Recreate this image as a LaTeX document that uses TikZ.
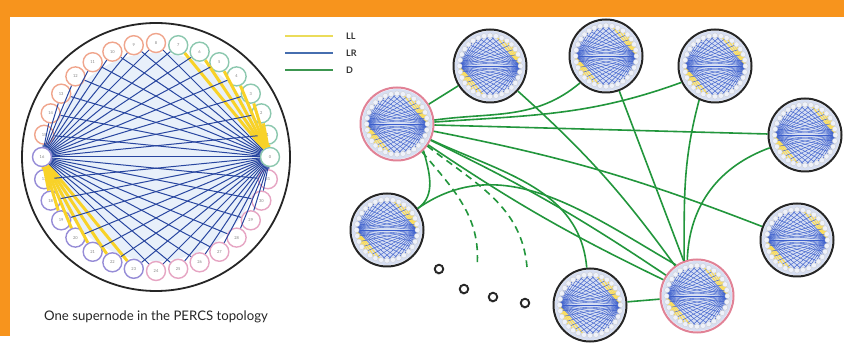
\documentclass[tikz,border=0pt]{standalone}
\usepackage{fontspec}
\setmainfont{Lato}
\usetikzlibrary{shadows}
\definecolor{orangebg}{RGB}{247,148,29}
\definecolor{lrblue}{RGB}{40,70,160}
\definecolor{minblue}{RGB}{60,95,205}
\definecolor{minfill}{RGB}{214,222,242}
\definecolor{llyellow}{RGB}{248,210,40}
\definecolor{dgreen}{RGB}{34,150,60}
\definecolor{hubc0}{RGB}{140,200,175}
\definecolor{hubc1}{RGB}{240,165,140}
\definecolor{hubc2}{RGB}{150,140,215}
\definecolor{hubc3}{RGB}{230,165,195}
\definecolor{pinkring}{RGB}{225,130,150}
\definecolor{innerfill}{RGB}{232,240,250}
\definecolor{keyll}{RGB}{235,220,90}
\definecolor{keylr}{RGB}{70,110,175}
\definecolor{keyd}{RGB}{60,150,80}

\begin{document}
\begin{tikzpicture}[x=1pt, y=1pt,
  hub/.style={circle, draw=#1, line width=1.4pt, fill=white, minimum size=19pt,
              inner sep=0pt, font=\fontsize{4}{4}\selectfont, text=gray},
  lr/.style={draw=lrblue, line width=1pt},
  ll/.style={draw=llyellow, line width=3pt},
  lrmini/.style={draw=minblue, line width=0.45pt},
  llmini/.style={draw=llyellow!75, line width=1.3pt},
  hubmini/.style={draw=gray!40, fill=white!60!minfill, line width=0.3pt},
  pics/mini/.style={code={
    \fill[minfill] (0,0) circle (35);
    \foreach \k in {1,...,7} \draw[llmini] (0:30.5) -- (\k*11.25:30.5);
    \foreach \k in {17,...,23} \draw[llmini] (180:30.5) -- (\k*11.25:30.5);
    \foreach \k in {0,1,...,15,24,25,...,31} \draw[lrmini] (180:30.5) -- (\k*11.25:30.5);
    \foreach \k in {8,...,15,17,18,...,31} \draw[lrmini] (0:30.5) -- (\k*11.25:30.5);
    \foreach \k in {0,...,31} \draw[hubmini] (\k*11.25:30.5) circle (2.6);
  }},
  snode/.style={circle, draw=#1, line width=2pt, minimum size=73pt, inner sep=0pt,
                path picture={\pic at (path picture bounding box.center) {mini};}},
  dlink/.style={draw=dgreen, line width=1.6pt},
  dlater/.style={dlink, dash pattern=on 7pt off 5pt},
  dot/.style={circle, draw=black!85, line width=1.9pt, fill=white, minimum size=8.5pt,
              inner sep=0pt, drop shadow={shadow xshift=-0.6pt, shadow yshift=-1.6pt, opacity=0.3}},
  key/.style={font=\fontsize{9}{10}\selectfont\bfseries, text=black!80, anchor=west, inner sep=0pt}]
  \fill[orangebg] (0,0) rectangle (844,336);
  \fill[white] (10,0) rectangle (844,319);
  \node[circle, draw=black!85, line width=1.8pt, fill=white, minimum size=268pt] (big) at (156,179) {};
  \fill[innerfill] (big.center) circle (104);
  \begin{scope}[shift={(156,179)}]
  \foreach \k in {0,...,31}{
    \pgfmathtruncatemacro\g{\k/8}
    \node[hub=hubc\g] (h\k) at (\k*11.25:114) {\k};
  }
  \end{scope}
  \foreach \k in {1,...,7} \draw[ll] (h0) -- (h\k);
  \foreach \k in {17,...,23} \draw[ll] (h16) -- (h\k);
  \foreach \k in {0,1,...,15,24,25,...,31} \draw[lr] (h16) -- (h\k);
  \foreach \k in {8,...,15,17,18,...,31} \draw[lr] (h0) -- (h\k);
  \node[font=\fontsize{13.2}{15}\selectfont, text=black!85] (cap) at (156,19) {One supernode in the PERCS topology};
  \coordinate (kLLa) at (285,300); \coordinate (kLLb) at (333,300);
  \coordinate (kLRa) at (285,283); \coordinate (kLRb) at (333,283);
  \coordinate (kDa) at (285,266);  \coordinate (kDb) at (333,266);
  \draw[keyll, line width=2pt] (kLLa) -- (kLLb);
  \draw[keylr, line width=2pt] (kLRa) -- (kLRb);
  \draw[keyd, line width=2pt] (kDa) -- (kDb);
  \node[key] (tLL) at (346,300) {LL};
  \node[key] (tLR) at (346,283) {LR};
  \node[key] (tD) at (346,266) {D};
  \node[snode=pinkring] (A) at (397,212) {};
  \node[snode=pinkring] (B) at (697,40) {};
  \node[snode=black!85] (s1) at (490,270) {};
  \node[snode=black!85] (s2) at (606,280) {};
  \node[snode=black!85] (s3) at (715,270) {};
  \node[snode=black!85] (s4) at (805,201) {};
  \node[snode=black!85] (s5) at (797,96) {};
  \node[snode=black!85] (s7) at (590,31) {};
  \node[snode=black!85] (s8) at (387,106) {};
  \node[dot] (e1) at (439,67) {};
  \node[dot] (e2) at (464,47) {};
  \node[dot] (e3) at (493,39) {};
  \node[dot] (e4) at (525,33) {};
  \coordinate (dd1) at (477,69);
  \coordinate (dd2) at (527,69);
  \draw[dlink] (A) -- (s1);
  \draw[dlink] (A.6) to[out=8, in=220] (s2.226);
  \draw[dlink] (A.3) to[out=4, in=200] (s3.206);
  \draw[dlink] (A) -- (s4);
  \draw[dlink] (A) to[bend left=5] (s5);
  \draw[dlink] (A) to[bend left=4] (B);
  \draw[dlink] (A) to[bend right=4] (B);
  \draw[dlink] (A.-25) to[out=-25, in=95] (s7.95);
  \draw[dlink] (A.-45) to[out=-75, in=35] (s8.35);
  \draw[dlink] (s8.35) to[out=35, in=150] (B.124);
  \draw[dlink] (s1) to[bend left=6] (B);
  \draw[dlink] (s2) -- (B);
  \draw[dlink] (s3.-115) to[out=-105, in=90] (B.110);
  \draw[dlink] (s4.200) to[out=200, in=88] (B.105);
  \draw[dlink] (s7) -- (B);
  \draw[dlater] (A.-48) to[out=-50, in=85] (dd1);
  \draw[dlater] (A.-36) to[out=-38, in=95] (dd2);
\end{tikzpicture}
\end{document}
